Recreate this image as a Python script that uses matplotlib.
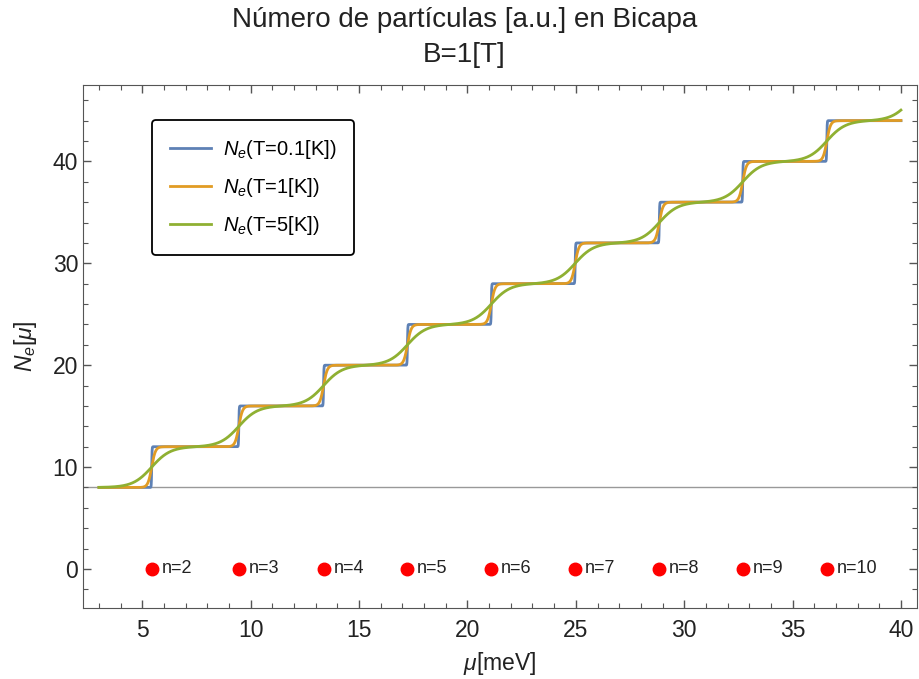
import numpy as np
import matplotlib
matplotlib.use('Agg')
import matplotlib.pyplot as plt
from matplotlib.ticker import MultipleLocator

plt.rcParams['font.family'] = ['Liberation Sans', 'DejaVu Sans']
plt.rcParams['mathtext.fontset'] = 'custom'
plt.rcParams['mathtext.rm'] = 'Liberation Sans'
plt.rcParams['mathtext.it'] = 'Liberation Sans:italic'

# Landau level energies (meV) for the bilayer, B = 1 T
level_n = [2, 3, 4, 5, 6, 7, 8, 9, 10, 11]
level_E = [5.43, 9.45, 13.36, 17.23, 21.1, 24.97, 28.85, 32.7, 36.58, 40.45]
N0 = 8          # occupation below the first level
degeneracy = 4  # particles added per level
temps = [0.1, 1, 5]
colors = ['#5E81B5', '#E19C24', '#8FB032']
mu_min, mu_max = 3, 40

kB = 0.08617  # meV/K

def fermi(x):
	return 0.5 * (1 - np.tanh(x / 2))

def N_e(mu, T):
	kT = kB * T
	total = np.full_like(mu, float(N0))
	for E in level_E:
		total += degeneracy * fermi((E - mu) / kT)
	return total

mu = np.linspace(mu_min, mu_max, 20000)

fig = plt.figure(figsize=(9.2, 6.79), dpi=100)
ax = fig.add_axes([0.0902, 0.105, 0.9065, 0.7698])

ax.axhline(N0, color='#999999', lw=1.0, zorder=1)

for T, c in zip(temps, colors):
	ax.plot(mu, N_e(mu, T), color=c, lw=2.0, label=r'$N_e$(T=' + str(T) + '[K])', zorder=3)

# marked levels at the bottom
for n, E in zip(level_n[:-1], level_E[:-1]):
	ax.plot(E, 0, 'o', color='#FF0000', ms=9, zorder=4)
	ax.text(E + 0.45, 0, 'n=%d' % n, fontsize=13, va='center', ha='left', color='#222222')

ax.set_xlim(2.26, 40.74)
ax.set_ylim(-3.8, 47.5)
ax.xaxis.set_major_locator(MultipleLocator(5))
ax.xaxis.set_minor_locator(MultipleLocator(1))
ax.yaxis.set_major_locator(MultipleLocator(10))
ax.yaxis.set_minor_locator(MultipleLocator(2))
ax.tick_params(which='both', direction='in', top=True, right=True, color='#555555',
	labelsize=16.5, labelcolor='#222222')
ax.tick_params(which='major', length=6, width=1)
ax.tick_params(which='minor', length=3.5, width=0.8)
ax.tick_params(axis='x', pad=8)
for s in ax.spines.values():
	s.set_color('#555555')

ax.set_xlabel(r'$\mu$[meV]', fontsize=16.5, color='#222222', labelpad=6)
ax.set_ylabel(r'$N_e[\mu]$', fontsize=16.5, color='#222222', labelpad=10)

leg = ax.legend(loc='upper left', bbox_to_anchor=(0.083, 0.933), borderaxespad=0,
	fontsize=14.5, frameon=True, fancybox=True, handlelength=2.0, labelspacing=0.75,
	borderpad=0.9, handletextpad=0.6)
leg.get_frame().set_edgecolor('black')
leg.get_frame().set_linewidth(1.3)
leg.get_frame().set_alpha(1)

fig.text(0.505, 0.99, 'Número de partículas [a.u.] en Bicapa\nB=1[T]', ha='center', va='top',
	fontsize=20, color='#222222', linespacing=1.45)

fig.savefig('out.png', dpi=100)
